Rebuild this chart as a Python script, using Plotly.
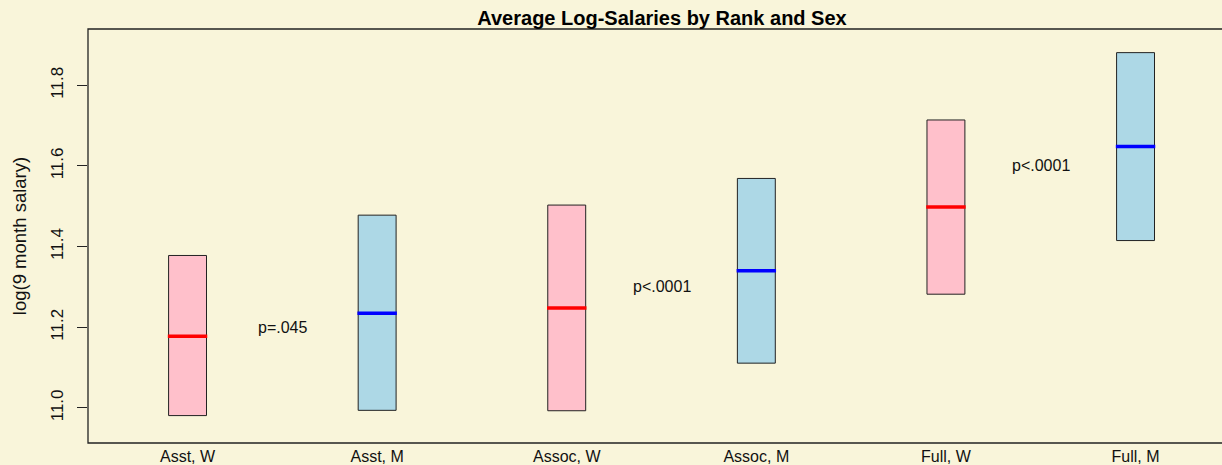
import plotly.graph_objects as go

categories = ["Asst, W", "Asst, M", "Assoc, W", "Assoc, M", "Full, W", "Full, M"]
sex = ["W", "M", "W", "M", "W", "M"]
low = [10.981, 10.994, 10.993, 11.111, 11.282, 11.415]
high = [11.378, 11.478, 11.503, 11.569, 11.714, 11.881]
mean = [11.178, 11.235, 11.248, 11.340, 11.498, 11.648]

pvals = ["p=.045", "p<.0001", "p<.0001"]
p_x = [1.5, 3.5, 5.5]
p_y = [11.2, 11.3, 11.6]

fill = {"W": "#FFC0CB", "M": "#ADD8E6"}
meancol = {"W": "#FF0000", "M": "#0000FF"}
xs = list(range(1, len(categories) + 1))
BG = "#f9f5da"
FONT = "Liberation Sans, Arial, sans-serif"

fig = go.Figure()
fig.add_trace(go.Bar(
    x=xs, base=low, y=[h - l for h, l in zip(high, low)], width=0.2,
    marker=dict(color=[fill[s] for s in sex], line=dict(color="#222222", width=1)),
    hoverinfo="skip", showlegend=False))

for x, m, s in zip(xs, mean, sex):
    fig.add_trace(go.Scatter(
        x=[x - 0.104, x + 0.104], y=[m, m], mode="lines",
        line=dict(color=meancol[s], width=3.5), showlegend=False, hoverinfo="skip"))

for t, px, py in zip(pvals, p_x, p_y):
    fig.add_annotation(x=px, y=py, text=t, showarrow=False,
                       font=dict(family=FONT, size=16, color="#111111"))

# frame (left/top/bottom; right edge lies beyond the picture)
fig.add_shape(type="rect", xref="paper", yref="paper", x0=0, x1=1.05, y0=0, y1=1,
              line=dict(color="#222222", width=1.3), fillcolor="rgba(0,0,0,0)")

fig.update_layout(
    width=1222, height=465,
    margin=dict(l=88, r=0, t=29, b=22),
    paper_bgcolor=BG, plot_bgcolor=BG,
    font=dict(family=FONT, color="#111111"),
    title=dict(text="<b>Average Log-Salaries by Rank and Sex</b>",
               xref="container", yref="container", x=662 / 1222, y=1 - 18 / 465,
               xanchor="center", yanchor="middle",
               font=dict(family=FONT, size=20, color="#000000")),
    xaxis=dict(range=[0.475, 6.456], tickvals=xs, ticktext=categories,
               showgrid=False, zeroline=False, showline=False, ticks="",
               tickfont=dict(size=16), ticklabelstandoff=2),
    yaxis=dict(range=[10.913, 11.9396], tickvals=[11.0, 11.2, 11.4, 11.6, 11.8],
               ticktext=["11.0", "11.2", "11.4", "11.6", "11.8"],
               showgrid=False, zeroline=False, showline=False,
               ticks="outside", ticklen=10, tickcolor="#222222", tickwidth=1.3,
               tickangle=-90, tickfont=dict(size=17), ticklabelstandoff=7,
               title=dict(text="log(9 month salary)", font=dict(size=18.5), standoff=16)),
)

fig.write_html("out.html", config={"displayModeBar": False},
               post_script="document.body.style.margin='0';document.body.style.padding='0';"
                           "document.body.style.background='" + BG + "';"
                           "document.body.style.overflow='hidden';")
